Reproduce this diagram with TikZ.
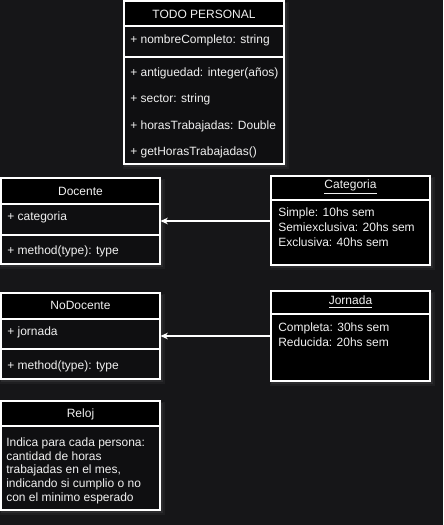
\documentclass[tikz,border=0pt]{standalone}
\usepackage{fontspec}
\setmainfont{Liberation Sans}
\usetikzlibrary{fit,arrows.meta}
\definecolor{bgc}{HTML}{161618}
\definecolor{bodyc}{HTML}{0F0F11}
\definecolor{ink}{HTML}{F0F0F0}
\newcommand\glowrect[4]{%
  \fill[white,opacity=0.04] (#1-1,#2+1) rectangle (#3+4.5,#4+4.5);
  \fill[white,opacity=0.06] (#1,#2+2) rectangle (#3+2.5,#4+2.5);
}
\begin{document}
\begin{tikzpicture}[x=0.75pt,y=-0.75pt,
  font=\fontsize{9}{10.5}\selectfont, text=ink,
  frame/.style={fit={#1}, inner sep=0pt, draw=white, line width=0.8pt, fill=bodyc},
  blackframe/.style={fit={#1}, inner sep=0pt, draw=white, line width=0.8pt, fill=black},
  hdr/.style={fit={#1}, inner sep=0pt, draw=white, line width=0.8pt, fill=black},
  title/.style={anchor=center, inner sep=0pt},
  item/.style={anchor=west, inner sep=0pt},
  lines/.style={anchor=base west, inner sep=0pt, align=left},
  divider/.style={draw=white, line width=0.8pt},
  assoc/.style={draw=white, line width=0.8pt, -{Stealth[length=5.5pt,width=5pt]}}
]
\useasboundingbox (0,0) rectangle (443,525);
\fill[bgc] (0,0) rectangle (443,525);

% glows
\glowrect{124}{1}{284}{164}
\glowrect{1}{178}{160}{264}
\glowrect{271}{176}{430}{265}
\glowrect{1}{293}{160}{379}
\glowrect{271}{291}{430}{381}
\glowrect{1}{401}{160}{510}

% TODO PERSONAL
\node[frame={(124,1)(284,164)}] (tp) {};
\node[hdr={(124,1)(284,26)}] (tph) {};
\node[title] (tpt) at (204,14) {TODO PERSONAL};
\draw[divider] (124,57) -- (284,57);
\node[item] (tp1) at (130,40) {+ nombreCompleto: string};
\node[item] (tp2) at (130,73) {+ antiguedad: integer(años)};
\node[item] (tp3) at (130,99) {+ sector: string};
\node[item] (tp4) at (130,126) {+ horasTrabajadas: Double};
\node[item] (tp5) at (130,152) {+ getHorasTrabajadas()};

% Docente
\node[frame={(1,178)(160,264)}] (doc) {};
\node[hdr={(1,178)(160,204)}] (doch) {};
\node[title] (doct) at (80.5,191) {Docente};
\draw[divider] (1,235) -- (160,235);
\node[item] (doc1) at (7,217) {+ categoria};
\node[item] (doc2) at (7,251) {+ method(type): type};

% Categoria
\node[blackframe={(271,176)(430,265)}] (cat) {};
\node[hdr={(271,176)(430,200)}] (cath) {};
\node[title] (catt) at (350.5,187) {\underline{Categoria}};
\node[lines, font=\fontsize{9}{10.9}\selectfont] (catb) at (278,246)
  {Simple: 10hs sem\\Semiexclusiva: 20hs sem\\Exclusiva: 40hs sem};

% NoDocente
\node[frame={(1,293)(160,379)}] (nod) {};
\node[hdr={(1,293)(160,319)}] (nodh) {};
\node[title] (nodt) at (80.5,305) {NoDocente};
\draw[divider] (1,349) -- (160,349);
\node[item] (nod1) at (7,332) {+ jornada};
\node[item] (nod2) at (7,366) {+ method(type): type};

% Jornada
\node[blackframe={(271,291)(430,381)}] (jor) {};
\node[hdr={(271,291)(430,314)}] (jorh) {};
\node[title] (jort) at (350.5,302) {\underline{Jornada}};
\node[lines, font=\fontsize{9}{10.9}\selectfont] (jorb) at (278,346)
  {Completa: 30hs sem\\Reducida: 20hs sem};

% Reloj
\node[frame={(1,401)(160,510)}] (rel) {};
\node[hdr={(1,401)(160,426)}] (relh) {};
\node[title] (relt) at (80.5,414) {Reloj};
\node[lines, font=\fontsize{9}{10.15}\selectfont] (relb) at (6,501)
  {Indica para cada persona:\\cantidad de horas\\trabajadas en el mes,\\indicando si cumplio o no\\con el minimo esperado};

% connectors
\draw[assoc] (cat.west |- doc.east) -- (doc.east);
\draw[assoc] (jor.west |- nod.east) -- (nod.east);
\end{tikzpicture}
\end{document}
